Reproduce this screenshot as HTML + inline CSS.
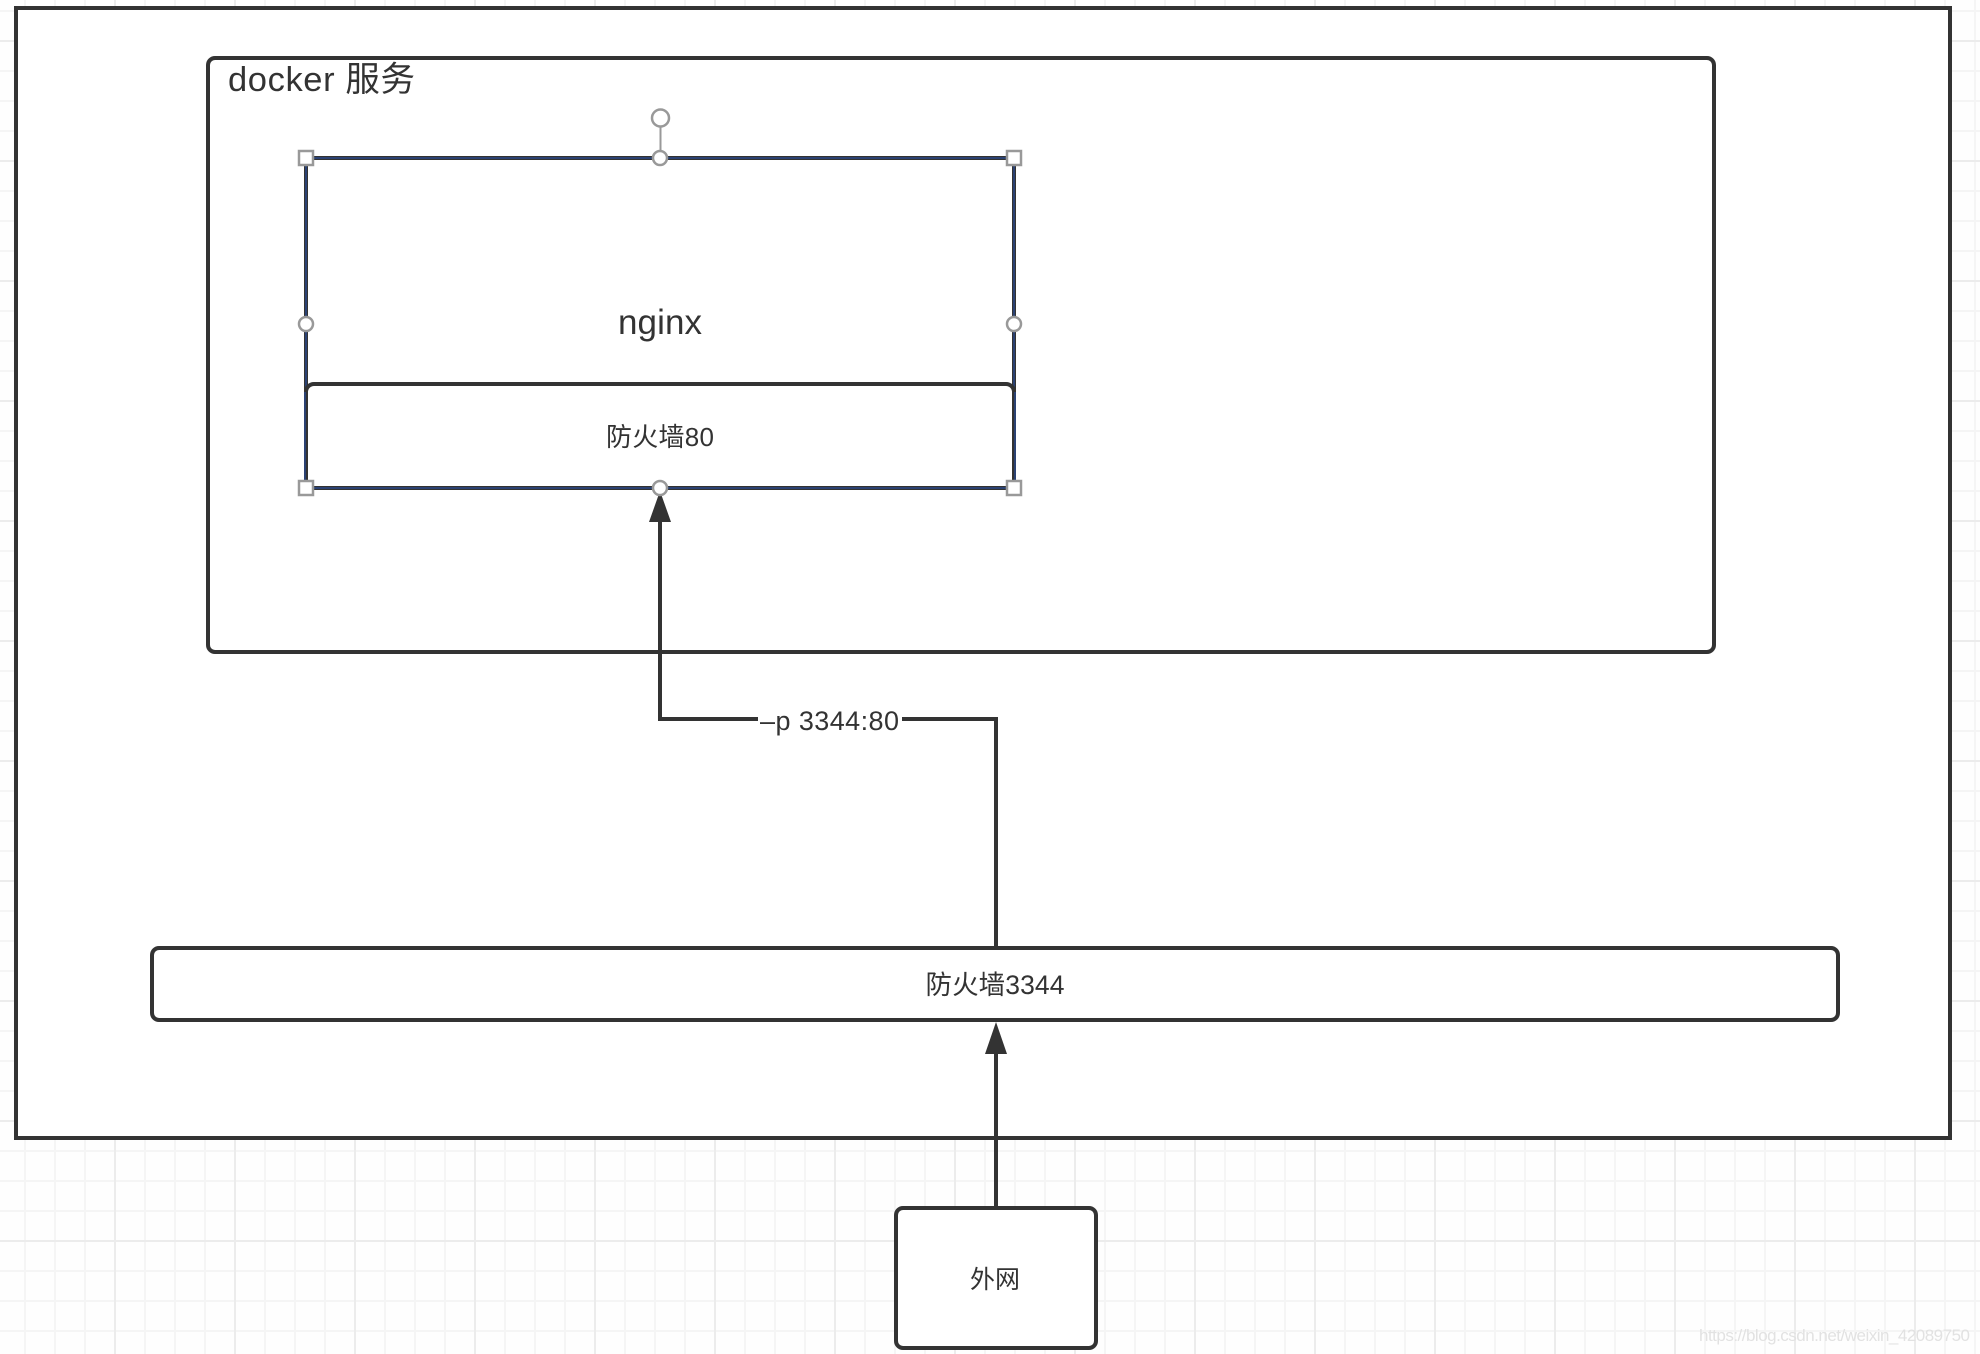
<!DOCTYPE html>
<html>
<head>
<meta charset="utf-8">
<style>
html,body{margin:0;padding:0;background:#fff;width:1980px;height:1354px;overflow:hidden}
svg{display:block}
text{font-family:"Liberation Sans","Noto Sans CJK SC",sans-serif;fill:#333}
</style>
</head>
<body>
<svg width="1980" height="1354" viewBox="0 0 1980 1354" xmlns="http://www.w3.org/2000/svg">
<defs>
<pattern id="minor" x="10" y="-4" width="30" height="30" patternUnits="userSpaceOnUse">
<path d="M15 0V30M0 15H30" stroke="#f5f5f5" stroke-width="2" fill="none"/>
</pattern>
<pattern id="major" x="55" y="-19" width="120" height="120" patternUnits="userSpaceOnUse">
<path d="M60 0V120M0 60H120" stroke="#ececec" stroke-width="2" fill="none"/>
</pattern>
</defs>
<rect width="1980" height="1354" fill="#fefefe"/>
<rect width="1980" height="1354" fill="url(#minor)"/>
<rect width="1980" height="1354" fill="url(#major)"/>

<!-- outer host -->
<rect x="16" y="8" width="1934" height="1130" fill="#fff" stroke="#333" stroke-width="4"/>

<!-- docker -->
<rect x="208" y="58" width="1506" height="594" rx="7" fill="#fff" stroke="#333" stroke-width="4"/>
<text x="228" y="91" font-size="34.500" textLength="187" lengthAdjust="spacing">docker 服务</text>

<!-- connectors -->
<path d="M996 1208V1050" fill="none" stroke="#333" stroke-width="4"/>
<polygon points="996,1022 1007,1054 985,1054" fill="#333"/>
<path d="M996 948V719H660V518" fill="none" stroke="#333" stroke-width="4"/>
<polygon points="660,491 671,522 649,522" fill="#333"/>

<!-- connector label -->
<rect x="758" y="700" width="144" height="36" fill="#fff"/>
<text x="760" y="730" font-size="27" textLength="139" lengthAdjust="spacing">–p 3344:80</text>

<!-- nginx selected -->
<rect x="306" y="158" width="708" height="330" fill="#fff" stroke="#333" stroke-width="4"/>
<rect x="306" y="158" width="708" height="330" fill="none" stroke="#2b4273" stroke-width="2"/>
<text x="660" y="334" font-size="35" text-anchor="middle" textLength="84" lengthAdjust="spacing">nginx</text>

<!-- firewall 80 -->
<path d="M306 488V392a8 8 0 0 1 8-8H1006a8 8 0 0 1 8 8V488" fill="none" stroke="#333" stroke-width="4"/>
<path d="M305 392V486M1015 392V486" fill="none" stroke="#2b4273" stroke-width="2"/>
<text x="660" y="446" font-size="26" text-anchor="middle" textLength="108" lengthAdjust="spacing">防火墙80</text>

<!-- selection handles -->
<g fill="#fff" stroke="#999" stroke-width="2.500">
<path d="M660.500 126V158" fill="none" stroke-width="2"/>
<circle cx="660.500" cy="118" r="8.500"/>
<circle cx="660" cy="158" r="7"/>
<circle cx="306" cy="324" r="7"/>
<circle cx="1014" cy="324" r="7"/>
<circle cx="660" cy="488" r="7"/>
<rect x="299" y="151" width="14" height="14"/>
<rect x="1007" y="151" width="14" height="14"/>
<rect x="299" y="481" width="14" height="14"/>
<rect x="1007" y="481" width="14" height="14"/>
</g>

<!-- firewall 3344 -->
<rect x="152" y="948" width="1686" height="72" rx="7" fill="#fff" stroke="#333" stroke-width="4"/>
<text x="995" y="994" font-size="26.500" text-anchor="middle" textLength="139" lengthAdjust="spacing">防火墙3344</text>

<!-- external network -->
<rect x="896" y="1208" width="200" height="140" rx="7" fill="#fff" stroke="#333" stroke-width="4"/>
<text x="995" y="1288" font-size="25" text-anchor="middle" textLength="50" lengthAdjust="spacing">外网</text>

<!-- watermark -->
<text x="1699" y="1341" font-size="17" textLength="271" lengthAdjust="spacing" style="fill:#e2e2e2">https://blog.csdn.net/weixin_42089750</text>
</svg>
</body>
</html>
